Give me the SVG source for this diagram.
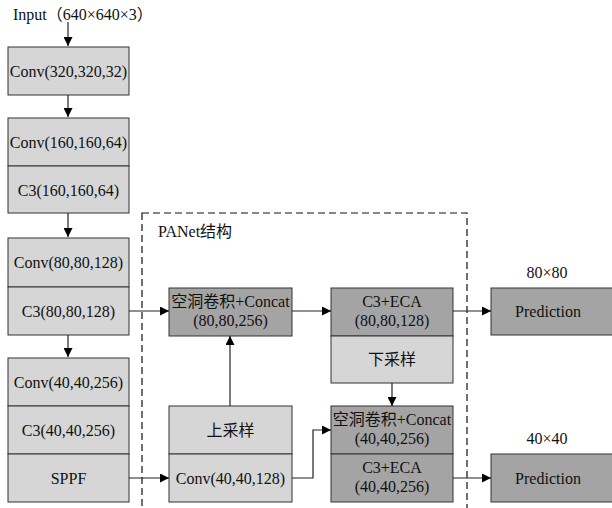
<svg xmlns="http://www.w3.org/2000/svg" width="612" height="508" viewBox="0 0 612 508">
<style>
text{font-family:'Liberation Serif','Noto Sans CJK SC',serif;font-size:16px;fill:#111}
.t{text-anchor:middle}
.lt{fill:#d6d6d6;stroke:#333;stroke-width:1}
.dk{fill:#a4a4a4;stroke:#333;stroke-width:1}
.ln{fill:none;stroke:#222;stroke-width:1.2}
.dash{fill:none;stroke:#111;stroke-width:1.2;stroke-dasharray:7 4}
</style>
<defs>
<marker id="ah" viewBox="0 0 10 10" refX="10" refY="5" markerWidth="10" markerHeight="9" markerUnits="userSpaceOnUse" orient="auto">
<path d="M0,0 L10,5 L0,10 Z" fill="#000"/>
</marker>
</defs>
<rect width="612" height="508" fill="#fff"/>
<g font-family="Liberation Serif, Noto Sans CJK SC, serif" font-size="16">
<text x="13" y="20">Input（640×640×3）</text>
<g id="panet">
<rect class="dash" x="142" y="213" width="325" height="300"/>
<text x="158" y="237">PANet结构</text>
</g>
<g id="conv1">
<rect class="lt" x="8" y="47" width="121" height="48"/>
<text class="t" x="68.5" y="77">Conv(320,320,32)</text>
</g>
<g id="conv2">
<rect class="lt" x="8" y="118" width="121" height="48"/>
<text class="t" x="68.5" y="148">Conv(160,160,64)</text>
</g>
<g id="c3_2">
<rect class="lt" x="8" y="166" width="121" height="47"/>
<text class="t" x="68.5" y="196">C3(160,160,64)</text>
</g>
<g id="conv3">
<rect class="lt" x="8" y="238" width="121" height="49"/>
<text class="t" x="68.5" y="268">Conv(80,80,128)</text>
</g>
<g id="c3_3">
<rect class="lt" x="8" y="287" width="121" height="48"/>
<text class="t" x="68.5" y="317">C3(80,80,128)</text>
</g>
<g id="conv4">
<rect class="lt" x="8" y="358" width="121" height="48"/>
<text class="t" x="68.5" y="388">Conv(40,40,256)</text>
</g>
<g id="c3_4">
<rect class="lt" x="8" y="406" width="121" height="48"/>
<text class="t" x="68.5" y="436">C3(40,40,256)</text>
</g>
<g id="sppf">
<rect class="lt" x="8" y="454" width="121" height="48"/>
<text class="t" x="68.5" y="484">SPPF</text>
</g>
<g id="concat80">
<rect class="dk" x="169" y="288" width="123" height="48"/>
<text class="t" x="230.5" y="307">空洞卷积+Concat</text>
<text class="t" x="230.5" y="326">(80,80,256)</text>
</g>
<g id="c3eca80">
<rect class="dk" x="331" y="288" width="122" height="48"/>
<text class="t" x="392" y="307">C3+ECA</text>
<text class="t" x="392" y="326">(80,80,128)</text>
</g>
<g id="down">
<rect class="lt" x="331" y="336" width="122" height="47"/>
<text class="t" x="392" y="365">下采样</text>
</g>
<g id="up">
<rect class="lt" x="169" y="406" width="123" height="48"/>
<text class="t" x="230.5" y="436">上采样</text>
</g>
<g id="conv40">
<rect class="lt" x="169" y="454" width="123" height="48"/>
<text class="t" x="230.5" y="484">Conv(40,40,128)</text>
</g>
<g id="concat40">
<rect class="dk" x="331" y="406" width="122" height="48"/>
<text class="t" x="392" y="425">空洞卷积+Concat</text>
<text class="t" x="392" y="444">(40,40,256)</text>
</g>
<g id="c3eca40">
<rect class="dk" x="331" y="454" width="122" height="48"/>
<text class="t" x="392" y="473">C3+ECA</text>
<text class="t" x="392" y="492">(40,40,256)</text>
</g>
<g id="pred80">
<text class="t" x="547" y="278">80×80</text>
<rect class="dk" x="491" y="288" width="125" height="47"/>
<text class="t" x="548" y="317">Prediction</text>
</g>
<g id="pred40">
<text class="t" x="547" y="444">40×40</text>
<rect class="dk" x="491" y="454" width="125" height="48"/>
<text class="t" x="548" y="484">Prediction</text>
</g>
</g>
<g id="connectors">
<line class="ln" x1="68" y1="22" x2="68" y2="46" marker-end="url(#ah)"/>
<line class="ln" x1="68" y1="95" x2="68" y2="117" marker-end="url(#ah)"/>
<line class="ln" x1="68" y1="213" x2="68" y2="237" marker-end="url(#ah)"/>
<line class="ln" x1="68" y1="335" x2="68" y2="357" marker-end="url(#ah)"/>
<line class="ln" x1="129" y1="311" x2="169" y2="311" marker-end="url(#ah)"/>
<line class="ln" x1="292" y1="311" x2="331" y2="311" marker-end="url(#ah)"/>
<line class="ln" x1="453" y1="311" x2="491" y2="311" marker-end="url(#ah)"/>
<line class="ln" x1="230" y1="406" x2="230" y2="336" marker-end="url(#ah)"/>
<line class="ln" x1="392" y1="383" x2="392" y2="406" marker-end="url(#ah)"/>
<line class="ln" x1="129" y1="478" x2="169" y2="478" marker-end="url(#ah)"/>
<polyline class="ln" points="292,478 313,478 313,430 331,430" marker-end="url(#ah)"/>
<line class="ln" x1="453" y1="478" x2="491" y2="478" marker-end="url(#ah)"/>
</g>
</svg>
